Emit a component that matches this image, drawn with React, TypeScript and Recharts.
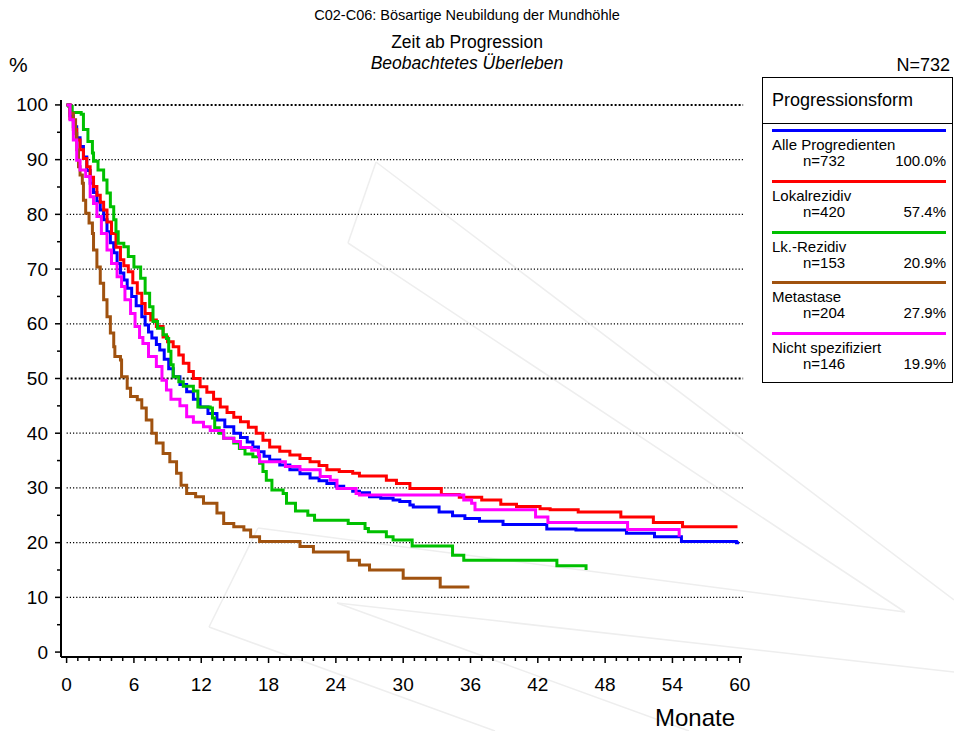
import { LineChart, Line, XAxis, YAxis, ReferenceLine } from "recharts";

// Kaplan-Meier curves (months / survival %)
const alleMonths = [0, 0.3, 0.6, 0.9, 1.2, 1.5, 1.8, 2.1, 2.4, 2.7, 3.0, 3.3, 3.6, 3.9, 4.2, 4.5, 4.8, 5.1, 5.4, 5.8, 6.2, 6.7, 7.0, 7.3, 7.6, 8.0, 8.3, 8.7, 9.1, 9.5, 10.1, 10.7, 11.3, 11.9, 12.6, 13.4, 14.1, 14.9, 15.5, 16.1, 16.6, 17.1, 17.6, 18.1, 19.0, 19.9, 20.8, 21.7, 22.5, 23.2, 24.0, 24.7, 25.5, 26.1, 27.0, 28.0, 29.1, 29.7, 30.6, 30.9, 33.2, 34.4, 35.5, 36.8, 38.9, 42.8, 45.4, 49.9, 52.4, 54.8, 59.7, 59.8];
const alleSurv = [100, 98, 96, 94, 92.4, 90.5, 88, 85.7, 84, 82.3, 80.8, 79, 76.8, 74.8, 73, 71, 69.3, 68, 66.5, 65, 63.3, 61.3, 59.8, 58.5, 57.4, 56.2, 55.2, 53.5, 51.8, 50.3, 48.9, 47.6, 46.2, 44.8, 43.6, 42.4, 41.2, 40, 39.2, 38.4, 37.5, 36.6, 35.8, 35.1, 34.2, 33.3, 32.6, 31.8, 31.3, 30.8, 30.3, 29.9, 29.4, 29.1, 28.4, 28.1, 27.8, 27.5, 26.9, 26.5, 25.6, 24.9, 24.4, 23.9, 23.3, 22.5, 22.3, 21.7, 21.1, 20.2, 20.0, 19.7];

const lokalMonths = [0, 0.3, 0.6, 0.9, 1.2, 1.5, 1.8, 2.1, 2.4, 2.7, 3.0, 3.3, 3.6, 4.0, 4.4, 4.8, 5.1, 5.5, 5.9, 6.3, 6.7, 7.0, 7.5, 8.0, 8.6, 9.0, 9.5, 10.0, 10.4, 10.9, 11.3, 11.9, 12.5, 13.1, 13.7, 14.3, 14.9, 15.5, 16.2, 16.9, 17.5, 18.1, 19.0, 19.9, 20.8, 21.7, 22.5, 23.2, 24.3, 25.5, 26.1, 28.5, 29.4, 30.6, 33.4, 35.0, 37.0, 38.7, 40.1, 42.2, 43.1, 45.6, 49.4, 52.3, 54.9, 59.8];
const lokalSurv = [100, 97.5, 95.5, 93.6, 91.8, 90.2, 88.7, 86.8, 85.1, 83.5, 82.2, 80.8, 78.6, 76.5, 74, 71.7, 70.6, 69.5, 67.5, 65.6, 63.7, 61.9, 60.7, 59.5, 57.6, 56.7, 55.8, 54.3, 52.8, 51.3, 50.0, 48.5, 47.5, 46.2, 44.8, 43.8, 42.9, 42.1, 41.1, 40.0, 38.7, 37.5, 36.7, 36.0, 35.4, 34.8, 34.1, 33.3, 33.0, 32.7, 32.2, 31.4, 30.8, 29.9, 28.8, 28.3, 27.8, 27.0, 26.6, 26.2, 26.0, 25.6, 24.7, 23.7, 22.9, 22.9];

const lkMonths = [0, 0.2, 0.5, 1.3, 1.5, 1.9, 2.3, 2.4, 2.8, 3.3, 3.6, 3.9, 4.2, 4.4, 4.6, 5.1, 5.5, 6.0, 6.6, 7.0, 7.4, 7.7, 8.1, 8.6, 8.9, 9.1, 9.3, 9.5, 10.0, 10.4, 11.3, 11.7, 12.8, 13.0, 13.2, 13.6, 14.0, 14.9, 15.4, 15.9, 16.6, 17.2, 17.5, 17.8, 18.3, 19.3, 19.6, 20.4, 21.5, 22.1, 25.1, 26.6, 26.9, 28.5, 29.1, 30.8, 34.4, 35.4, 43.7, 46.3];
const lkSurv = [100, 99.7, 98.6, 98.3, 95.5, 93.3, 91.2, 89.7, 88.1, 86.3, 83.9, 81.4, 79, 76.8, 74.7, 74.1, 72.3, 70.4, 68.3, 65.6, 63.1, 60.4, 59.2, 58.0, 57.3, 55, 52.5, 50.3, 49.4, 48.6, 47.7, 44.8, 44.6, 42.8, 41.0, 40.0, 39.1, 38.2, 37.2, 36.2, 35.7, 34.5, 33.0, 31.4, 29.6, 29.0, 27.2, 25.8, 25.0, 24.1, 23.5, 22.6, 22.0, 21.1, 20.5, 19.4, 17.7, 16.8, 15.8, 15.0];

const metaMonths = [0, 0.3, 0.6, 0.8, 0.9, 1.06, 1.2, 1.4, 1.5, 1.7, 2.0, 2.3, 2.4, 2.7, 3.0, 3.3, 3.6, 3.9, 4.2, 4.3, 4.8, 4.9, 5.4, 5.7, 6.3, 6.7, 7.1, 7.6, 8.0, 8.6, 9.2, 9.8, 10.2, 10.7, 11.5, 12.2, 13.4, 14.0, 14.9, 15.8, 16.4, 17.2, 20.8, 22.0, 25.1, 26.1, 27.0, 30.0, 33.3, 35.9];
const metaSurv = [100, 98.5, 97.3, 94.8, 91.8, 88.7, 87.2, 85.7, 82.6, 80.2, 78.4, 76.5, 73.5, 70.4, 67.4, 64.4, 61.3, 58.3, 55.8, 54.0, 53.4, 50.3, 48.2, 46.7, 46.1, 44.6, 42.4, 40.0, 38.2, 36.3, 34.8, 32.7, 30.5, 29.0, 28.4, 27.2, 25.4, 23.5, 22.9, 22.3, 21.1, 20.2, 19.3, 18.3, 16.8, 15.9, 15.0, 13.5, 11.9, 11.9];

const nsMonths = [0, 0.3, 0.6, 0.9, 1.2, 1.7, 2.1, 2.4, 2.7, 3.1, 3.6, 4.0, 4.5, 4.9, 5.2, 5.7, 6.1, 6.5, 6.8, 7.3, 8.0, 8.5, 8.9, 9.3, 10.1, 10.7, 11.3, 12.2, 12.8, 14.0, 14.9, 15.5, 16.5, 17.1, 17.2, 19.5, 20.8, 22.6, 23.5, 24.1, 25.8, 26.1, 35.4, 36.1, 36.4, 41.8, 42.9, 50.0, 54.6];
const nsSurv = [100, 97.3, 93.6, 89.9, 88.1, 86.9, 83.2, 82.0, 79.6, 76.5, 73.5, 71.0, 68.6, 66.8, 64.4, 61.9, 59.5, 57.5, 56.4, 54.0, 52.2, 49.7, 47.9, 46.2, 45.0, 43.0, 42.0, 41.2, 40.5, 39.1, 38.5, 37.4, 36.9, 36.0, 34.8, 33.9, 33.3, 32.1, 31.4, 29.9, 29.0, 28.7, 27.8, 27.2, 26.0, 24.7, 23.7, 22.4, 21.1];

const seriesNames = ["Alle Progredienten", "Lokalrezidiv", "Lk.-Rezidiv", "Metastase", "Nicht spezifiziert"];
const seriesCounts = [732, 420, 153, 204, 146];
const seriesShares = ["100.0%", "57.4%", "20.9%", "27.9%", "19.9%"];
const seriesColors = ["#0000ff", "#ff0000", "#00c000", "#a0520f", "#ff00ff"];

const xTicks = Array.from({ length: 61 }, (_, i) => i);
const yTicks = Array.from({ length: 21 }, (_, i) => i * 5);
const gridValues = [10, 20, 30, 40, 50, 60, 70, 80, 90, 100];

const toRows = (months: number[], surv: number[]) =>
  months.map((m, i) => ({ m, v: surv[i] }));

const curves = [
  toRows(alleMonths, alleSurv),
  toRows(lokalMonths, lokalSurv),
  toRows(lkMonths, lkSurv),
  toRows(metaMonths, metaSurv),
  toRows(nsMonths, nsSurv),
];

const FONT = "'Liberation Sans', Arial, sans-serif";

const XTick = (props: any) => {
  const { x, y, payload } = props;
  const major = payload.value % 6 === 0;
  return (
    <g>
      <line x1={x} x2={x} y1={y} y2={y + (major ? 6 : 4)} stroke="#000" strokeWidth={1.5} />
      {major && (
        <text x={x} y={y + 27} textAnchor="middle" dominantBaseline="central" fontSize={19} fontFamily={FONT} fill="#000">
          {payload.value}
        </text>
      )}
    </g>
  );
};

const YTick = (props: any) => {
  const { x, y, payload } = props;
  const major = payload.value % 10 === 0;
  return (
    <g>
      <line x1={x} x2={x - (major ? 6 : 4)} y1={y} y2={y} stroke="#000" strokeWidth={1.5} />
      {major && (
        <text x={x - 13} y={y} textAnchor="end" dominantBaseline="central" fontSize={19} fontFamily={FONT} fill="#000">
          {payload.value}
        </text>
      )}
    </g>
  );
};

// faint background watermark
const watermark = [
  "348,243 376,162",
  "376,162 954,600",
  "348,243 905,612",
  "258,528 905,612",
  "209,627 258,528",
  "209,627 495,731",
  "337,603 954,672",
  "337,603 689,731",
];

export default function App() {
  return (
    <div style={{ position: "absolute", left: 0, top: 0, width: 954, height: 731, background: "#fff", fontFamily: FONT }}>
      <svg width={954} height={731} style={{ position: "absolute", left: 0, top: 0 }}>
        {watermark.map((p, i) => (
          <polyline key={i} points={p} fill="none" stroke="#eeeeee" strokeWidth={1.5} />
        ))}
      </svg>
      <div style={{ position: "absolute", left: 0, width: 934, top: 7, textAlign: "center", fontSize: 14.5, lineHeight: "17px" }}>
        C02-C06: Bösartige Neubildung der Mundhöhle
      </div>
      <div style={{ position: "absolute", left: 0, width: 934, top: 32, textAlign: "center", fontSize: 17.5, lineHeight: "20px" }}>
        Zeit ab Progression
      </div>
      <div style={{ position: "absolute", left: 0, width: 934, top: 53, textAlign: "center", fontSize: 17.5, lineHeight: "20px", fontStyle: "italic" }}>
        Beobachtetes Überleben
      </div>
      <div style={{ position: "absolute", left: 9, top: 53, fontSize: 21, lineHeight: "24px" }}>%</div>
      <div style={{ position: "absolute", right: 4, top: 54, fontSize: 18, lineHeight: "22px" }}>N=732</div>
      <div style={{ position: "absolute", left: 655, top: 705, fontSize: 24, lineHeight: "26px" }}>Monate</div>

      <div style={{ position: "absolute", left: 0, top: 0 }}>
        <LineChart width={954} height={731} data={curves[0]} margin={{ top: 100, right: 212, bottom: 0, left: 0 }}>
          <XAxis
            dataKey="m"
            type="number"
            domain={[-0.5, 60.2]}
            ticks={xTicks}
            interval={0}
            height={74}
            tickSize={0}
            tickMargin={0}
            tickLine={false}
            tick={<XTick />}
            axisLine={{ stroke: "#000", strokeWidth: 2 }}
            allowDataOverflow
          />
          <YAxis
            type="number"
            domain={[-0.9, 100.9]}
            ticks={yTicks}
            interval={0}
            width={61}
            tickSize={0}
            tickMargin={0}
            tickLine={false}
            tick={<YTick />}
            axisLine={{ stroke: "#000", strokeWidth: 2 }}
            allowDataOverflow
          />
          {gridValues.map((g) => (
            <ReferenceLine
              key={g}
              segment={[{ x: 0, y: g }, { x: 60.3, y: g }]}
              stroke="#000"
              strokeWidth={g % 50 === 0 ? 2 : 1.2}
              strokeDasharray={g % 50 === 0 ? "2 2" : "1.2 2"}
              ifOverflow="visible"
            />
          ))}
          {curves.map((rows, i) => (
            <Line
              key={seriesNames[i]}
              data={rows}
              dataKey="v"
              type="stepAfter"
              stroke={seriesColors[i]}
              strokeWidth={3}
              dot={false}
              activeDot={false}
              isAnimationActive={false}
            />
          ))}
        </LineChart>
      </div>

      <div style={{ position: "absolute", left: 762, top: 77, width: 189, height: 304, border: "1px solid #000", background: "#fff" }}>
        <div style={{ position: "absolute", left: 9, top: 12, fontSize: 18, lineHeight: "21px" }}>Progressionsform</div>
        <div style={{ position: "absolute", left: 0, right: 0, top: 45, borderTop: "1px solid #000" }} />
        {seriesNames.map((name, i) => (
          <div key={name} style={{ position: "absolute", left: 9, width: 174, top: 51 + i * 50.8, fontSize: 15, lineHeight: "16px" }}>
            <div style={{ height: 3, background: seriesColors[i] }} />
            <div style={{ marginTop: 5 }}>{name}</div>
            <div style={{ position: "relative", height: 16 }}>
              <span style={{ position: "absolute", left: 31 }}>n={seriesCounts[i]}</span>
              <span style={{ position: "absolute", right: 0 }}>{seriesShares[i]}</span>
            </div>
          </div>
        ))}
      </div>
    </div>
  );
}
